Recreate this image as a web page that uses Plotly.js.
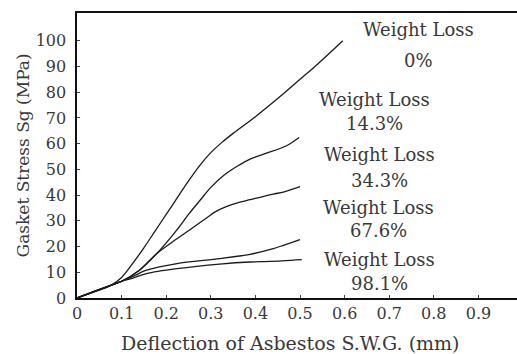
<!DOCTYPE html>
<html>
<head>
<meta charset="utf-8">
<script src="https://cdn.plot.ly/plotly-3.0.1.min.js"></script>
<style>html,body{margin:0;padding:0;background:#fff;}#chart{width:517px;height:354px;}</style>
</head>
<body>
<div id="chart"></div>
<script>
// Series data (deflection mm, gasket stress MPa)
const seriesNames = ["0%", "14.3%", "34.3%", "67.6%", "98.1%"];

const x0 = [0, 0.045, 0.075, 0.1, 0.125, 0.15, 0.175, 0.2, 0.225, 0.25, 0.275, 0.3, 0.325, 0.35, 0.4, 0.46, 0.5, 0.54, 0.596];
const y0 = [0, 2.8, 4.8, 8, 13.5, 19.5, 26, 32.5, 39, 45.5, 51.5, 56.5, 60.5, 64, 70.5, 79, 85, 91, 100];

const x1 = [0, 0.045, 0.1, 0.14, 0.179, 0.224, 0.25, 0.276, 0.3, 0.33, 0.36, 0.388, 0.42, 0.47, 0.498];
const y1 = [0, 3.0, 6.5, 10.8, 17.3, 26.5, 32.5, 38, 43, 47.8, 51.3, 54.0, 56.0, 59.2, 62.4];

const x2 = [0, 0.045, 0.1, 0.14, 0.179, 0.224, 0.283, 0.31, 0.336, 0.36, 0.388, 0.44, 0.4626, 0.5];
const y2 = [0, 3.0, 6.5, 10.8, 17.3, 23, 30.2, 33.5, 35.6, 37, 38.2, 40.4, 41.2, 43.3];

const x3 = [0, 0.045, 0.1, 0.13, 0.156, 0.224, 0.32, 0.388, 0.44, 0.4626, 0.5];
const y3 = [0, 3.0, 6.5, 8.8, 10.8, 13.4, 15.3, 17, 19.2, 20.5, 22.7];

const x4 = [0, 0.045, 0.1, 0.119, 0.156, 0.224, 0.32, 0.388, 0.433, 0.504];
const y4 = [0, 3.0, 6.5, 7.4, 9.5, 11.4, 13.2, 14, 14.2, 14.9];

const xTickVals = [0, 0.1, 0.2, 0.3, 0.4, 0.5, 0.6, 0.7, 0.8, 0.9];
const xTickText = ["0", "0.1", "0.2", "0.3", "0.4", "0.5", "0.6", "0.7", "0.8", "0.9"];
const yTickVals = [0, 10, 20, 30, 40, 50, 60, 70, 80, 90, 100];
const yTickText = ["0", "10", "20", "30", "40", "50", "60", "70", "80", "90", "100"];

const labelHead = "Weight Loss";
const xTitle = "Deflection of Asbestos S.W.G. (mm)";
const yTitle = "Gasket Stress Sg (MPa)";

const xs = [x0, x1, x2, x3, x4];
const ys = [y0, y1, y2, y3, y4];

const FONT = "DejaVu Serif";
const TXT = "#383838";
const traces = xs.map((xv, i) => ({
  x: xv, y: ys[i], type: "scatter", mode: "lines", name: seriesNames[i],
  line: {color: "#1a1a1a", width: 1.3, shape: "spline", smoothing: 0.8},
  hoverinfo: "skip"
}));

// label placement (layout only)
const labelPos = [
  {x: 0.765, yh: 104.2, yv: 92.5},
  {x: 0.668, yh: 77.3, yv: 68.0},
  {x: 0.679, yh: 55.9, yv: 45.8},
  {x: 0.677, yh: 35.3, yv: 26.3},
  {x: 0.679, yh: 15.1, yv: 5.7}
];
const annotations = [];
seriesNames.forEach((n, i) => {
  const p = labelPos[i];
  annotations.push({x: p.x, y: p.yh, xref: "x", yref: "y", text: labelHead, showarrow: false,
    font: {family: FONT, size: 18, color: TXT}});
  annotations.push({x: p.x, y: p.yv, xref: "x", yref: "y", text: n, showarrow: false,
    font: {family: FONT, size: 18, color: TXT}});
});
// axis titles placed as annotations for exact positioning
annotations.push({x: 0.485, y: -0.158, xref: "paper", yref: "paper", xanchor: "center", yanchor: "middle",
  text: xTitle, showarrow: false, font: {family: FONT, size: 19, color: TXT}});
annotations.push({x: -0.123, y: 0.5, xref: "paper", yref: "paper", xanchor: "center", yanchor: "middle",
  textangle: -90, text: yTitle, showarrow: false, font: {family: FONT, size: 17, color: TXT}});

const layout = {
  width: 517, height: 354,
  margin: {l: 77, r: 0, t: 13, b: 56},
  paper_bgcolor: "#fff", plot_bgcolor: "#fff",
  showlegend: false,
  font: {family: FONT, size: 16, color: TXT},
  xaxis: {
    range: [0, 0.9865], tickvals: xTickVals, ticktext: xTickText,
    showgrid: false, zeroline: false, showline: true, linecolor: "#111", linewidth: 1.6,
    mirror: true, ticks: "inside", ticklen: 3, tickcolor: "#444",
    tickfont: {family: FONT, size: 16, color: TXT}, ticklabelstandoff: 0
  },
  yaxis: {
    range: [0, 110.8], tickvals: yTickVals, ticktext: yTickText,
    showgrid: false, zeroline: false, showline: true, linecolor: "#111", linewidth: 1.6,
    mirror: false, ticks: "inside", ticklen: 3, tickcolor: "#444",
    tickfont: {family: FONT, size: 16, color: TXT}, ticklabelstandoff: 6
  },
  annotations: annotations
};

Plotly.newPlot("chart", traces, layout, {staticPlot: true, displayModeBar: false});
</script>
</body>
</html>
